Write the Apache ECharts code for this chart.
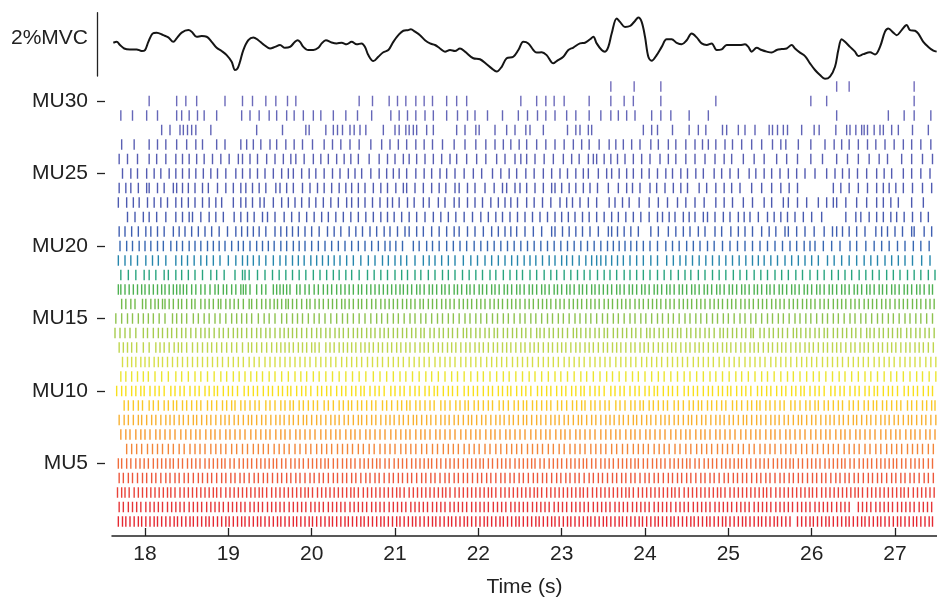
<!DOCTYPE html>
<html><head><meta charset="utf-8">
<script src="https://cdn.jsdelivr.net/npm/echarts@6/dist/echarts.min.js"></script>
<style>html,body{margin:0;padding:0;background:#fff}#c{width:937px;height:600px}</style>
</head><body><div id="c"></div>
<script>
const timeTicks = [18, 19, 20, 21, 22, 23, 24, 25, 26, 27];
const muTicks = [5, 10, 15, 20, 25, 30];

const forceT = [17.62,17.66,17.70,17.75,17.82,17.90,17.96,18.00,18.04,18.09,18.14,18.22,18.28,18.34,18.38,18.44,18.52,18.56,18.62,18.68,18.74,18.80,18.86,18.92,18.98,19.04,19.08,19.11,19.14,19.18,19.24,19.30,19.36,19.42,19.50,19.56,19.62,19.68,19.74,19.80,19.83,19.86,19.90,19.96,20.02,20.08,20.12,20.17,20.24,20.30,20.36,20.42,20.48,20.54,20.60,20.64,20.68,20.74,20.80,20.86,20.92,20.98,21.04,21.10,21.16,21.19,21.24,21.30,21.36,21.42,21.48,21.54,21.60,21.66,21.72,21.78,21.84,21.94,22.02,22.10,22.16,22.22,22.28,22.34,22.42,22.48,22.54,22.60,22.66,22.70,22.76,22.82,22.90,22.94,23.02,23.08,23.14,23.22,23.28,23.34,23.38,23.42,23.48,23.52,23.56,23.60,23.66,23.70,23.76,23.82,23.88,23.92,23.96,24.00,24.04,24.08,24.14,24.20,24.26,24.32,24.38,24.44,24.50,24.56,24.62,24.68,24.74,24.80,24.86,24.92,24.98,25.06,25.14,25.20,25.24,25.28,25.34,25.40,25.46,25.52,25.58,25.64,25.70,25.76,25.80,25.86,25.92,25.98,26.04,26.10,26.16,26.22,26.28,26.32,26.36,26.40,26.46,26.52,26.56,26.62,26.70,26.76,26.82,26.88,26.92,26.98,27.02,27.08,27.14,27.18,27.24,27.28,27.34,27.40,27.46,27.50];
const forceV = [1.05,1.08,0.98,0.87,0.84,0.84,0.79,0.82,1.08,1.34,1.37,1.29,1.22,1.08,1.19,1.37,1.45,1.40,1.24,1.26,1.24,1.08,0.89,0.79,0.66,0.45,0.19,0.24,0.45,0.82,1.13,1.22,1.13,1.00,0.87,0.92,0.98,0.89,0.92,1.08,1.13,1.08,0.92,0.82,0.82,0.89,1.03,1.13,1.06,1.03,1.05,1.00,1.08,1.00,1.03,0.92,0.66,0.47,0.61,0.75,0.82,1.08,1.29,1.43,1.45,1.48,1.40,1.29,1.13,1.03,0.98,0.87,0.77,0.82,0.79,0.87,0.77,0.56,0.53,0.37,0.24,0.14,0.29,0.56,0.61,0.82,1.08,1.03,0.82,0.74,0.75,0.66,0.40,0.47,0.61,0.82,0.90,1.03,1.05,1.16,1.24,1.03,0.82,0.77,0.92,1.34,1.82,1.71,1.55,1.58,1.74,1.85,1.71,1.24,0.61,0.48,0.66,0.92,1.16,1.16,1.05,1.00,1.13,1.34,1.22,1.03,0.98,1.03,0.82,0.84,0.98,0.98,0.98,1.00,0.92,0.77,0.89,0.82,0.77,0.74,0.82,0.85,0.87,0.98,0.87,0.74,0.63,0.40,0.19,0.03,-0.09,-0.02,0.29,0.82,1.16,1.08,0.92,0.77,0.63,0.69,0.75,0.68,0.92,1.40,1.50,1.37,1.29,1.45,1.61,1.45,1.43,1.34,1.08,0.92,0.80,0.77];

const mu1 = [17.68,17.73,17.77,17.82,17.87,17.92,17.96,18.01,18.06,18.11,18.15,18.20,18.25,18.30,18.35,18.39,18.44,18.49,18.54,18.58,18.63,18.68,18.73,18.77,18.82,18.87,18.92,18.97,19.01,19.06,19.11,19.16,19.20,19.25,19.30,19.35,19.39,19.44,19.49,19.54,19.59,19.63,19.68,19.73,19.78,19.82,19.87,19.92,19.97,20.01,20.06,20.11,20.16,20.21,20.25,20.30,20.35,20.40,20.44,20.49,20.54,20.59,20.63,20.68,20.73,20.78,20.83,20.87,20.92,20.97,21.02,21.06,21.11,21.16,21.21,21.25,21.30,21.35,21.40,21.45,21.49,21.54,21.59,21.64,21.68,21.73,21.78,21.83,21.87,21.92,21.97,22.02,22.07,22.11,22.16,22.21,22.26,22.30,22.35,22.40,22.45,22.49,22.54,22.59,22.64,22.69,22.73,22.78,22.83,22.88,22.92,22.97,23.02,23.07,23.11,23.16,23.21,23.26,23.31,23.35,23.40,23.45,23.50,23.54,23.59,23.64,23.69,23.73,23.78,23.83,23.88,23.93,23.97,24.02,24.07,24.12,24.16,24.21,24.26,24.31,24.35,24.40,24.45,24.50,24.55,24.59,24.64,24.69,24.74,24.78,24.83,24.88,24.93,24.97,25.02,25.07,25.12,25.17,25.21,25.26,25.31,25.36,25.40,25.45,25.50,25.55,25.59,25.64,25.69,25.74,25.83,25.88,25.93,25.98,26.02,26.07,26.12,26.17,26.21,26.26,26.31,26.36,26.41,26.45,26.50,26.55,26.60,26.64,26.69,26.74,26.79,26.83,26.88,26.93,26.98,27.03,27.07,27.12,27.17,27.22,27.26,27.31,27.36,27.41,27.45];
const mu2 = [17.69,17.74,17.80,17.85,17.90,17.95,18.01,18.06,18.11,18.16,18.21,18.27,18.32,18.37,18.42,18.47,18.53,18.58,18.63,18.68,18.74,18.79,18.84,18.89,18.94,19.00,19.05,19.10,19.15,19.20,19.26,19.31,19.36,19.41,19.47,19.52,19.57,19.62,19.67,19.73,19.78,19.83,19.88,19.93,19.99,20.04,20.09,20.14,20.20,20.25,20.30,20.35,20.40,20.46,20.51,20.56,20.61,20.66,20.72,20.77,20.82,20.87,20.93,20.98,21.03,21.08,21.13,21.19,21.24,21.29,21.34,21.39,21.45,21.50,21.55,21.60,21.66,21.71,21.76,21.81,21.86,21.92,21.97,22.02,22.07,22.12,22.18,22.23,22.28,22.33,22.39,22.44,22.49,22.54,22.59,22.65,22.70,22.75,22.80,22.85,22.91,22.96,23.01,23.06,23.12,23.17,23.22,23.27,23.32,23.38,23.43,23.48,23.53,23.58,23.64,23.69,23.74,23.79,23.85,23.90,23.95,24.00,24.05,24.11,24.16,24.21,24.26,24.31,24.37,24.42,24.47,24.52,24.58,24.63,24.68,24.73,24.78,24.84,24.89,24.94,24.99,25.04,25.10,25.15,25.20,25.25,25.31,25.36,25.41,25.46,25.51,25.57,25.62,25.67,25.72,25.77,25.83,25.88,25.93,25.98,26.04,26.09,26.14,26.19,26.24,26.30,26.35,26.40,26.45,26.56,26.61,26.66,26.71,26.77,26.82,26.87,26.92,26.97,27.03,27.08,27.13,27.18,27.23,27.29,27.34,27.39,27.44];
const mu3 = [17.67,17.72,17.76,17.81,17.87,17.92,17.97,18.02,18.07,18.12,18.17,18.22,18.27,18.31,18.36,18.42,18.47,18.52,18.57,18.62,18.67,18.72,18.77,18.82,18.86,18.91,18.97,19.02,19.07,19.12,19.17,19.22,19.27,19.32,19.37,19.41,19.46,19.52,19.57,19.62,19.67,19.72,19.77,19.82,19.87,19.92,19.96,20.01,20.07,20.12,20.17,20.22,20.27,20.32,20.37,20.42,20.47,20.51,20.56,20.62,20.67,20.72,20.77,20.82,20.87,20.92,20.97,21.02,21.06,21.11,21.17,21.22,21.27,21.32,21.37,21.42,21.47,21.52,21.57,21.61,21.66,21.72,21.77,21.82,21.87,21.92,21.97,22.02,22.07,22.12,22.16,22.21,22.27,22.32,22.37,22.42,22.47,22.52,22.57,22.62,22.67,22.71,22.76,22.82,22.87,22.92,22.97,23.02,23.07,23.12,23.17,23.22,23.26,23.31,23.37,23.42,23.47,23.52,23.57,23.62,23.67,23.72,23.77,23.81,23.86,23.92,23.97,24.02,24.07,24.12,24.17,24.22,24.27,24.32,24.36,24.41,24.47,24.52,24.57,24.62,24.67,24.72,24.77,24.82,24.87,24.91,24.96,25.02,25.07,25.12,25.17,25.22,25.27,25.32,25.37,25.42,25.46,25.51,25.57,25.62,25.67,25.72,25.77,25.82,25.87,25.92,25.97,26.01,26.06,26.12,26.17,26.22,26.27,26.32,26.37,26.42,26.47,26.52,26.56,26.61,26.67,26.72,26.77,26.82,26.87,26.92,26.97,27.02,27.07,27.11,27.16,27.22,27.27,27.32,27.37,27.42,27.47];
const mu4 = [17.69,17.74,17.80,17.85,17.91,17.97,18.02,18.08,18.13,18.19,18.25,18.30,18.36,18.41,18.47,18.52,18.58,18.64,18.69,18.75,18.80,18.86,18.92,18.97,19.03,19.08,19.14,19.19,19.25,19.31,19.36,19.42,19.47,19.53,19.59,19.64,19.70,19.75,19.81,19.86,19.92,19.98,20.03,20.09,20.14,20.20,20.26,20.31,20.37,20.42,20.48,20.53,20.59,20.65,20.70,20.76,20.81,20.87,20.93,20.98,21.04,21.09,21.15,21.20,21.26,21.32,21.37,21.43,21.48,21.54,21.60,21.65,21.71,21.76,21.82,21.87,21.93,21.99,22.04,22.10,22.15,22.21,22.27,22.32,22.38,22.43,22.49,22.54,22.60,22.66,22.71,22.77,22.82,22.88,22.94,22.99,23.05,23.10,23.16,23.21,23.27,23.33,23.38,23.44,23.49,23.55,23.61,23.66,23.72,23.77,23.83,23.88,23.94,24.00,24.05,24.11,24.16,24.22,24.28,24.33,24.39,24.44,24.50,24.55,24.61,24.67,24.72,24.78,24.83,24.89,24.95,25.00,25.06,25.11,25.17,25.22,25.28,25.34,25.39,25.45,25.50,25.56,25.62,25.67,25.73,25.78,25.84,25.89,25.95,26.01,26.06,26.12,26.17,26.23,26.29,26.34,26.40,26.45,26.51,26.56,26.62,26.68,26.73,26.79,26.84,26.90,26.96,27.01,27.07,27.12,27.18,27.23,27.29,27.35,27.40,27.46];
const mu5 = [17.68,17.72,17.78,17.83,17.89,17.94,17.99,18.04,18.10,18.15,18.20,18.25,18.30,18.34,18.40,18.45,18.51,18.56,18.61,18.66,18.72,18.77,18.82,18.87,18.92,18.96,19.02,19.07,19.13,19.18,19.23,19.28,19.34,19.39,19.44,19.49,19.54,19.58,19.64,19.69,19.75,19.80,19.85,19.90,19.96,20.01,20.06,20.11,20.16,20.20,20.26,20.31,20.37,20.42,20.47,20.52,20.58,20.63,20.68,20.73,20.78,20.82,20.88,20.93,20.99,21.04,21.09,21.14,21.20,21.25,21.30,21.35,21.40,21.44,21.50,21.55,21.61,21.66,21.71,21.76,21.82,21.87,21.92,21.97,22.02,22.06,22.12,22.17,22.23,22.28,22.33,22.38,22.44,22.49,22.54,22.59,22.64,22.68,22.74,22.79,22.85,22.90,22.95,23.00,23.06,23.11,23.16,23.21,23.26,23.30,23.36,23.41,23.47,23.52,23.57,23.62,23.68,23.73,23.78,23.83,23.88,23.92,23.98,24.03,24.09,24.14,24.19,24.24,24.30,24.35,24.40,24.45,24.50,24.54,24.60,24.65,24.71,24.76,24.81,24.86,24.92,24.97,25.02,25.07,25.12,25.16,25.22,25.27,25.33,25.38,25.43,25.48,25.54,25.59,25.64,25.69,25.74,25.78,25.84,25.89,25.95,26.00,26.05,26.10,26.16,26.21,26.26,26.31,26.36,26.40,26.46,26.51,26.57,26.62,26.67,26.72,26.78,26.83,26.88,26.93,26.98,27.02,27.08,27.13,27.19,27.24,27.29,27.34,27.40,27.45];
const mu6 = [17.78,17.84,17.90,17.96,18.03,18.09,18.15,18.21,18.28,18.34,18.41,18.47,18.54,18.60,18.66,18.72,18.79,18.85,18.91,18.97,19.04,19.10,19.17,19.23,19.30,19.36,19.42,19.48,19.55,19.61,19.67,19.73,19.80,19.86,19.93,19.99,20.06,20.12,20.18,20.24,20.31,20.37,20.43,20.49,20.56,20.62,20.69,20.75,20.82,20.88,20.94,21.00,21.07,21.13,21.19,21.25,21.32,21.38,21.45,21.51,21.58,21.64,21.70,21.76,21.83,21.89,21.95,22.01,22.08,22.14,22.21,22.27,22.34,22.40,22.46,22.52,22.59,22.65,22.71,22.77,22.84,22.90,22.97,23.03,23.10,23.16,23.22,23.28,23.35,23.41,23.47,23.53,23.60,23.66,23.73,23.79,23.86,23.92,23.98,24.04,24.11,24.17,24.23,24.29,24.36,24.42,24.49,24.55,24.62,24.68,24.74,24.80,24.87,24.93,24.99,25.05,25.12,25.18,25.25,25.31,25.38,25.44,25.50,25.56,25.63,25.69,25.75,25.81,25.88,25.94,26.01,26.07,26.14,26.20,26.26,26.32,26.39,26.45,26.51,26.57,26.64,26.70,26.77,26.83,26.90,26.96,27.02,27.08,27.15,27.21,27.27,27.33,27.40,27.46];
const mu7 = [17.71,17.77,17.82,17.89,17.95,18.00,18.06,18.13,18.18,18.24,18.30,18.36,18.43,18.49,18.55,18.61,18.66,18.73,18.79,18.84,18.90,18.97,19.02,19.08,19.14,19.20,19.27,19.33,19.39,19.45,19.50,19.57,19.63,19.68,19.74,19.81,19.86,19.92,19.98,20.04,20.11,20.17,20.23,20.29,20.34,20.41,20.47,20.52,20.58,20.65,20.70,20.76,20.82,20.88,20.95,21.01,21.07,21.13,21.18,21.25,21.31,21.36,21.42,21.49,21.54,21.60,21.66,21.72,21.79,21.85,21.91,21.97,22.02,22.09,22.15,22.20,22.26,22.33,22.38,22.44,22.50,22.56,22.63,22.69,22.75,22.81,22.86,22.93,22.99,23.04,23.10,23.17,23.22,23.28,23.34,23.40,23.47,23.53,23.59,23.65,23.70,23.77,23.83,23.88,23.94,24.01,24.06,24.12,24.18,24.24,24.31,24.37,24.43,24.49,24.54,24.61,24.67,24.72,24.78,24.85,24.90,24.96,25.02,25.08,25.15,25.21,25.27,25.33,25.38,25.45,25.51,25.56,25.62,25.69,25.74,25.80,25.86,25.92,25.99,26.05,26.11,26.17,26.22,26.29,26.35,26.40,26.46,26.53,26.58,26.64,26.70,26.76,26.83,26.89,26.95,27.01,27.06,27.13,27.19,27.24,27.30,27.37,27.42,27.48];
const mu8 = [17.69,17.75,17.80,17.86,17.92,17.96,18.02,18.08,18.13,18.19,18.25,18.30,18.35,18.41,18.46,18.52,18.58,18.62,18.68,18.74,18.79,18.85,18.91,18.96,19.01,19.07,19.12,19.18,19.24,19.28,19.34,19.40,19.45,19.51,19.57,19.62,19.67,19.73,19.78,19.84,19.90,19.94,20.00,20.06,20.11,20.17,20.23,20.28,20.33,20.39,20.44,20.50,20.56,20.60,20.66,20.72,20.77,20.83,20.89,20.94,20.99,21.05,21.10,21.16,21.22,21.26,21.32,21.38,21.43,21.49,21.55,21.60,21.65,21.71,21.76,21.82,21.88,21.92,21.98,22.04,22.09,22.15,22.21,22.26,22.31,22.37,22.42,22.48,22.54,22.58,22.64,22.70,22.75,22.81,22.87,22.92,22.97,23.03,23.08,23.14,23.20,23.24,23.30,23.36,23.41,23.47,23.53,23.58,23.63,23.69,23.74,23.80,23.86,23.90,23.96,24.02,24.07,24.13,24.19,24.24,24.29,24.35,24.40,24.46,24.52,24.56,24.62,24.68,24.73,24.79,24.85,24.90,24.95,25.01,25.06,25.12,25.18,25.22,25.28,25.34,25.39,25.45,25.51,25.56,25.61,25.67,25.72,25.78,25.84,25.88,25.94,26.00,26.05,26.11,26.17,26.22,26.27,26.33,26.38,26.44,26.50,26.54,26.60,26.66,26.71,26.77,26.83,26.88,26.93,26.99,27.04,27.10,27.16,27.20,27.26,27.32,27.37,27.43,27.49];
const mu9 = [17.75,17.80,17.86,17.92,17.97,18.05,18.10,18.16,18.23,18.28,18.34,18.38,18.45,18.50,18.56,18.62,18.67,18.75,18.80,18.86,18.93,18.98,19.04,19.08,19.15,19.20,19.26,19.32,19.37,19.45,19.50,19.56,19.63,19.68,19.74,19.78,19.85,19.90,19.96,20.02,20.07,20.15,20.20,20.26,20.33,20.38,20.44,20.48,20.55,20.60,20.66,20.72,20.77,20.85,20.90,20.96,21.03,21.08,21.14,21.18,21.25,21.30,21.36,21.42,21.47,21.55,21.60,21.66,21.73,21.78,21.84,21.88,21.95,22.00,22.06,22.12,22.17,22.25,22.30,22.36,22.43,22.48,22.54,22.58,22.65,22.70,22.76,22.82,22.87,22.95,23.00,23.06,23.13,23.18,23.24,23.28,23.35,23.40,23.46,23.52,23.57,23.65,23.70,23.76,23.83,23.88,23.94,23.98,24.05,24.10,24.16,24.22,24.27,24.35,24.40,24.46,24.53,24.58,24.64,24.68,24.75,24.80,24.86,24.92,24.97,25.05,25.10,25.16,25.23,25.28,25.34,25.38,25.45,25.50,25.56,25.62,25.67,25.75,25.80,25.86,25.93,25.98,26.04,26.08,26.15,26.20,26.26,26.32,26.37,26.45,26.50,26.56,26.63,26.68,26.74,26.78,26.85,26.90,26.96,27.02,27.07,27.15,27.20,27.26,27.33,27.38,27.44,27.48];
const mu10 = [17.66,17.72,17.77,17.84,17.89,17.95,17.99,18.06,18.12,18.17,18.23,18.31,18.36,18.42,18.47,18.54,18.60,18.65,18.72,18.77,18.83,18.87,18.94,19.00,19.05,19.11,19.19,19.24,19.30,19.35,19.42,19.48,19.53,19.60,19.65,19.71,19.75,19.82,19.88,19.93,19.99,20.07,20.12,20.18,20.23,20.30,20.36,20.41,20.48,20.53,20.59,20.63,20.70,20.76,20.81,20.87,20.95,21.00,21.06,21.11,21.18,21.24,21.29,21.36,21.41,21.47,21.51,21.58,21.64,21.69,21.75,21.83,21.88,21.94,21.99,22.06,22.12,22.17,22.24,22.29,22.35,22.39,22.46,22.52,22.57,22.63,22.71,22.76,22.82,22.87,22.94,23.00,23.05,23.12,23.17,23.23,23.27,23.34,23.40,23.45,23.51,23.59,23.64,23.70,23.75,23.82,23.88,23.93,24.00,24.05,24.11,24.15,24.22,24.28,24.33,24.39,24.47,24.52,24.58,24.63,24.70,24.76,24.81,24.88,24.93,24.99,25.03,25.10,25.16,25.21,25.27,25.35,25.40,25.46,25.51,25.58,25.64,25.69,25.76,25.81,25.87,25.91,25.98,26.04,26.09,26.15,26.23,26.28,26.34,26.39,26.46,26.52,26.57,26.64,26.69,26.75,26.79,26.86,26.92,26.97,27.03,27.11,27.16,27.22,27.27,27.34,27.40,27.45];
const mu11 = [17.71,17.77,17.84,17.91,17.98,18.04,18.12,18.20,18.28,18.37,18.44,18.52,18.60,18.67,18.75,18.83,18.91,18.98,19.06,19.13,19.20,19.27,19.34,19.41,19.49,19.56,19.64,19.72,19.80,19.87,19.94,20.02,20.09,20.17,20.25,20.33,20.41,20.49,20.57,20.65,20.74,20.82,20.90,20.98,21.06,21.13,21.21,21.29,21.37,21.44,21.52,21.60,21.68,21.75,21.83,21.91,21.99,22.06,22.14,22.22,22.30,22.37,22.45,22.53,22.61,22.68,22.76,22.84,22.92,22.99,23.07,23.15,23.23,23.30,23.38,23.46,23.54,23.61,23.69,23.77,23.85,23.92,24.00,24.08,24.16,24.23,24.31,24.39,24.47,24.54,24.62,24.70,24.78,24.85,24.93,25.01,25.09,25.16,25.24,25.32,25.40,25.47,25.55,25.63,25.71,25.78,25.86,25.94,26.02,26.09,26.17,26.25,26.33,26.40,26.48,26.56,26.64,26.71,26.79,26.87,26.95,27.02,27.10,27.18,27.26,27.33,27.41,27.49];
const mu12 = [17.73,17.79,17.84,17.89,17.95,18.00,18.05,18.11,18.16,18.21,18.27,18.33,18.39,18.45,18.51,18.57,18.63,18.69,18.75,18.81,18.87,18.93,19.00,19.06,19.12,19.18,19.25,19.31,19.37,19.44,19.50,19.56,19.62,19.68,19.74,19.80,19.86,19.92,19.98,20.05,20.11,20.17,20.23,20.29,20.36,20.42,20.48,20.54,20.60,20.67,20.73,20.79,20.85,20.92,20.98,21.04,21.10,21.17,21.23,21.29,21.35,21.41,21.48,21.54,21.60,21.66,21.72,21.79,21.85,21.91,21.97,22.03,22.10,22.16,22.22,22.28,22.34,22.41,22.47,22.53,22.59,22.65,22.72,22.78,22.84,22.90,22.96,23.03,23.09,23.15,23.21,23.27,23.34,23.40,23.46,23.52,23.58,23.65,23.71,23.77,23.83,23.89,23.96,24.02,24.08,24.14,24.20,24.27,24.33,24.39,24.45,24.51,24.58,24.64,24.70,24.76,24.82,24.89,24.95,25.01,25.07,25.13,25.20,25.26,25.32,25.38,25.44,25.51,25.57,25.63,25.69,25.75,25.82,25.88,25.94,26.00,26.06,26.13,26.19,26.25,26.31,26.37,26.44,26.50,26.56,26.62,26.68,26.75,26.81,26.87,26.93,26.99,27.06,27.12,27.18,27.24,27.30,27.37,27.43,27.49];
const mu13 = [17.69,17.74,17.79,17.84,17.90,17.98,18.05,18.13,18.18,18.23,18.29,18.35,18.40,18.44,18.50,18.57,18.63,18.69,18.75,18.80,18.86,18.92,18.98,19.04,19.10,19.17,19.24,19.28,19.34,19.40,19.46,19.52,19.58,19.63,19.68,19.73,19.78,19.84,19.89,19.94,20.00,20.04,20.09,20.17,20.22,20.27,20.33,20.38,20.43,20.48,20.53,20.59,20.64,20.69,20.74,20.80,20.85,20.91,20.96,21.02,21.07,21.13,21.18,21.24,21.30,21.35,21.40,21.46,21.52,21.57,21.63,21.68,21.73,21.79,21.85,21.90,21.96,22.01,22.06,22.12,22.18,22.23,22.29,22.34,22.39,22.45,22.51,22.56,22.62,22.67,22.72,22.78,22.84,22.89,22.95,23.00,23.05,23.11,23.17,23.22,23.28,23.33,23.38,23.44,23.50,23.55,23.61,23.66,23.71,23.77,23.83,23.88,23.94,23.99,24.04,24.10,24.16,24.21,24.27,24.32,24.37,24.43,24.49,24.54,24.60,24.65,24.70,24.76,24.82,24.87,24.93,24.98,25.03,25.09,25.15,25.20,25.26,25.31,25.36,25.42,25.48,25.53,25.59,25.64,25.69,25.75,25.81,25.86,25.92,25.97,26.02,26.08,26.14,26.19,26.25,26.30,26.35,26.41,26.47,26.52,26.58,26.63,26.68,26.74,26.80,26.85,26.91,26.96,27.01,27.07,27.13,27.18,27.24,27.29,27.34,27.40,27.46];
const mu14 = [17.64,17.70,17.76,17.82,17.89,17.98,18.03,18.10,18.16,18.21,18.27,18.32,18.38,18.44,18.49,18.55,18.61,18.67,18.72,18.77,18.83,18.89,18.94,19.00,19.06,19.11,19.16,19.22,19.28,19.34,19.39,19.45,19.50,19.56,19.62,19.67,19.72,19.77,19.82,19.88,19.94,20.00,20.06,20.11,20.17,20.22,20.28,20.33,20.38,20.44,20.50,20.55,20.60,20.66,20.71,20.76,20.82,20.87,20.92,20.98,21.03,21.09,21.14,21.20,21.25,21.31,21.35,21.42,21.47,21.53,21.58,21.64,21.69,21.75,21.82,21.86,21.91,21.97,22.02,22.08,22.13,22.19,22.23,22.30,22.35,22.41,22.46,22.52,22.57,22.63,22.70,22.74,22.79,22.85,22.90,22.96,23.01,23.07,23.14,23.18,23.23,23.29,23.34,23.40,23.45,23.51,23.55,23.62,23.67,23.73,23.78,23.84,23.89,23.95,24.02,24.06,24.11,24.17,24.22,24.28,24.33,24.39,24.43,24.50,24.55,24.61,24.66,24.72,24.77,24.83,24.90,24.94,24.99,25.05,25.10,25.16,25.21,25.27,25.30,25.38,25.43,25.49,25.54,25.60,25.65,25.71,25.78,25.82,25.87,25.93,25.98,26.04,26.09,26.15,26.19,26.26,26.31,26.37,26.42,26.48,26.53,26.59,26.66,26.70,26.75,26.81,26.86,26.92,26.97,27.03,27.07,27.14,27.19,27.25,27.30,27.36,27.41,27.47];
const mu15 = [17.65,17.72,17.79,17.85,17.92,17.98,18.04,18.10,18.17,18.24,18.33,18.38,18.44,18.50,18.58,18.64,18.71,18.77,18.84,18.90,18.97,19.04,19.10,19.16,19.22,19.28,19.36,19.43,19.49,19.56,19.64,19.70,19.77,19.83,19.89,19.96,20.03,20.09,20.16,20.23,20.30,20.37,20.43,20.50,20.57,20.64,20.71,20.78,20.84,20.91,20.98,21.04,21.11,21.18,21.24,21.31,21.37,21.44,21.51,21.57,21.64,21.70,21.77,21.84,21.90,21.97,22.03,22.10,22.17,22.23,22.30,22.36,22.43,22.50,22.56,22.63,22.69,22.76,22.83,22.89,22.96,23.02,23.09,23.16,23.22,23.29,23.35,23.42,23.49,23.55,23.62,23.68,23.75,23.82,23.88,23.95,24.01,24.08,24.15,24.21,24.28,24.34,24.41,24.48,24.54,24.61,24.67,24.74,24.81,24.87,24.94,25.00,25.07,25.14,25.20,25.27,25.33,25.40,25.47,25.53,25.60,25.66,25.73,25.80,25.86,25.93,25.99,26.06,26.13,26.19,26.26,26.32,26.39,26.46,26.52,26.59,26.65,26.72,26.79,26.85,26.92,26.98,27.05,27.12,27.18,27.25,27.31,27.38,27.45];
const mu16 = [17.72,17.77,17.83,17.88,17.97,18.01,18.07,18.12,18.16,18.21,18.24,18.29,18.34,18.40,18.44,18.50,18.56,18.60,18.67,18.72,18.77,18.82,18.88,18.91,18.97,19.02,19.07,19.12,19.18,19.25,19.28,19.34,19.40,19.45,19.50,19.55,19.59,19.64,19.69,19.72,19.77,19.82,19.88,19.94,19.98,20.04,20.09,20.14,20.20,20.25,20.30,20.36,20.40,20.45,20.50,20.56,20.60,20.66,20.72,20.77,20.83,20.88,20.93,20.98,21.03,21.09,21.14,21.19,21.24,21.30,21.34,21.40,21.45,21.50,21.56,21.61,21.66,21.71,21.77,21.82,21.87,21.92,21.98,22.03,22.08,22.14,22.19,22.24,22.29,22.35,22.40,22.45,22.50,22.56,22.61,22.66,22.72,22.77,22.82,22.87,22.93,22.98,23.03,23.09,23.14,23.19,23.24,23.30,23.35,23.40,23.45,23.51,23.56,23.61,23.67,23.72,23.77,23.82,23.88,23.93,23.98,24.04,24.09,24.14,24.19,24.25,24.30,24.35,24.41,24.46,24.51,24.56,24.62,24.67,24.72,24.78,24.83,24.88,24.93,24.99,25.04,25.09,25.15,25.20,25.25,25.30,25.36,25.41,25.46,25.52,25.57,25.62,25.67,25.73,25.78,25.83,25.89,25.94,25.99,26.04,26.10,26.15,26.20,26.26,26.31,26.36,26.41,26.47,26.52,26.57,26.63,26.68,26.73,26.78,26.84,26.89,26.94,27.00,27.05,27.10,27.15,27.21,27.26,27.31,27.37,27.42,27.47];
const mu17 = [17.68,17.71,17.76,17.81,17.86,17.91,17.96,18.00,18.05,18.10,18.15,18.20,18.24,18.29,18.34,18.38,18.42,18.46,18.50,18.56,18.61,18.67,18.72,18.78,18.84,18.88,18.94,18.98,19.04,19.09,19.15,19.18,19.21,19.26,19.34,19.40,19.45,19.54,19.58,19.62,19.66,19.70,19.74,19.82,19.86,19.92,19.97,20.03,20.08,20.14,20.19,20.24,20.30,20.35,20.40,20.45,20.50,20.56,20.60,20.66,20.71,20.76,20.81,20.86,20.91,20.96,21.01,21.06,21.10,21.15,21.20,21.26,21.30,21.35,21.41,21.45,21.50,21.56,21.60,21.65,21.71,21.75,21.80,21.86,21.90,21.95,22.01,22.05,22.10,22.16,22.20,22.25,22.31,22.35,22.40,22.46,22.50,22.55,22.61,22.65,22.70,22.76,22.80,22.85,22.91,22.95,23.00,23.06,23.10,23.15,23.21,23.25,23.30,23.36,23.40,23.45,23.50,23.55,23.60,23.66,23.70,23.75,23.81,23.85,23.90,23.96,24.00,24.05,24.11,24.15,24.20,24.26,24.30,24.35,24.41,24.45,24.50,24.56,24.60,24.65,24.71,24.75,24.80,24.86,24.90,24.95,25.01,25.05,25.10,25.16,25.20,25.25,25.31,25.35,25.40,25.46,25.50,25.55,25.61,25.65,25.70,25.76,25.80,25.85,25.91,25.95,26.00,26.06,26.10,26.15,26.21,26.25,26.30,26.36,26.40,26.45,26.51,26.55,26.60,26.66,26.70,26.75,26.81,26.85,26.90,26.96,27.00,27.05,27.11,27.15,27.20,27.26,27.30,27.35,27.41,27.45];
const mu18 = [17.71,17.80,17.89,17.99,18.05,18.13,18.23,18.28,18.37,18.44,18.52,18.60,18.69,18.79,18.86,18.95,19.08,19.17,19.20,19.25,19.35,19.44,19.53,19.61,19.69,19.77,19.85,19.93,20.02,20.10,20.18,20.26,20.33,20.41,20.48,20.57,20.67,20.75,20.83,20.91,21.00,21.08,21.15,21.24,21.31,21.40,21.48,21.57,21.64,21.72,21.81,21.89,21.97,22.05,22.14,22.21,22.30,22.38,22.46,22.53,22.62,22.70,22.79,22.87,22.94,23.03,23.11,23.19,23.27,23.34,23.43,23.51,23.58,23.66,23.75,23.82,23.90,23.98,24.06,24.15,24.23,24.31,24.40,24.48,24.55,24.64,24.72,24.81,24.89,24.97,25.06,25.14,25.22,25.31,25.39,25.47,25.56,25.64,25.72,25.81,25.89,25.98,26.07,26.15,26.24,26.32,26.40,26.48,26.57,26.65,26.73,26.81,26.90,26.98,27.06,27.15,27.23,27.31,27.40,27.48];
const mu19 = [17.68,17.76,17.83,17.91,18.01,18.09,18.16,18.25,18.37,18.44,18.51,18.59,18.67,18.74,18.82,18.90,19.00,19.09,19.17,19.23,19.30,19.37,19.45,19.54,19.62,19.69,19.77,19.84,19.91,19.99,20.06,20.13,20.20,20.27,20.34,20.42,20.50,20.59,20.68,20.76,20.85,20.92,21.00,21.07,21.14,21.24,21.34,21.41,21.48,21.56,21.64,21.72,21.82,21.91,21.99,22.08,22.16,22.24,22.32,22.40,22.47,22.55,22.62,22.69,22.77,22.85,22.92,23.00,23.06,23.13,23.21,23.29,23.36,23.42,23.47,23.53,23.60,23.67,23.74,23.82,23.90,23.98,24.07,24.15,24.26,24.34,24.42,24.49,24.57,24.65,24.73,24.81,24.89,24.97,25.05,25.13,25.21,25.29,25.36,25.43,25.51,25.59,25.68,25.76,25.84,25.92,26.00,26.08,26.19,26.27,26.36,26.45,26.54,26.63,26.71,26.79,26.88,26.96,27.04,27.12,27.21,27.32,27.42];
const mu20 = [17.70,17.78,17.85,17.93,18.00,18.07,18.15,18.22,18.31,18.38,18.45,18.53,18.60,18.67,18.75,18.82,18.89,18.96,19.04,19.12,19.18,19.26,19.34,19.41,19.48,19.55,19.63,19.70,19.78,19.85,19.92,20.00,20.08,20.16,20.24,20.32,20.40,20.48,20.56,20.64,20.72,20.80,20.88,20.94,21.01,21.09,21.22,21.29,21.38,21.45,21.53,21.62,21.70,21.78,21.86,21.95,22.03,22.11,22.19,22.27,22.35,22.43,22.51,22.59,22.67,22.75,22.83,22.91,22.99,23.07,23.15,23.23,23.31,23.39,23.47,23.55,23.62,23.69,23.76,23.83,23.90,23.98,24.06,24.15,24.25,24.33,24.41,24.50,24.58,24.66,24.75,24.83,24.93,25.02,25.11,25.20,25.29,25.38,25.47,25.56,25.65,25.74,25.82,25.91,25.98,26.04,26.14,26.24,26.34,26.46,26.54,26.65,26.75,26.84,26.93,27.03,27.12,27.22,27.31,27.41];
const mu21 = [17.69,17.76,17.84,17.92,18.01,18.07,18.15,18.23,18.34,18.41,18.48,18.56,18.64,18.72,18.80,18.89,18.99,19.09,19.16,19.23,19.30,19.37,19.45,19.56,19.63,19.70,19.77,19.84,19.92,20.00,20.09,20.19,20.27,20.35,20.45,20.53,20.61,20.70,20.78,20.87,20.94,21.03,21.12,21.17,21.26,21.34,21.44,21.53,21.62,21.71,21.77,21.87,21.96,22.06,22.16,22.24,22.32,22.39,22.46,22.56,22.66,22.76,22.88,22.92,23.01,23.09,23.17,23.25,23.34,23.44,23.56,23.60,23.67,23.75,23.83,23.92,24.07,24.16,24.28,24.37,24.46,24.54,24.64,24.72,24.84,24.92,25.03,25.12,25.20,25.29,25.40,25.49,25.57,25.68,25.72,25.82,25.92,26.03,26.15,26.25,26.30,26.37,26.45,26.54,26.64,26.77,26.84,26.91,27.00,27.09,27.20,27.23,27.35,27.44];
const mu22 = [17.79,17.88,17.98,18.05,18.14,18.25,18.37,18.45,18.53,18.57,18.67,18.77,18.85,18.94,19.07,19.15,19.23,19.31,19.41,19.47,19.56,19.67,19.76,19.85,19.94,20.03,20.12,20.20,20.29,20.38,20.47,20.56,20.65,20.74,20.83,20.91,20.99,21.08,21.17,21.26,21.36,21.46,21.55,21.64,21.73,21.83,21.93,22.03,22.12,22.21,22.29,22.38,22.47,22.56,22.65,22.74,22.83,22.92,23.00,23.08,23.16,23.25,23.33,23.42,23.51,23.60,23.68,23.77,23.86,23.95,24.05,24.15,24.21,24.29,24.36,24.46,24.53,24.60,24.70,24.75,24.84,24.94,25.02,25.12,25.19,25.26,25.36,25.47,25.55,25.63,25.71,25.80,25.90,26.00,26.12,26.41,26.53,26.59,26.69,26.78,26.86,26.95,27.02,27.11,27.21,27.31,27.40];
const mu23 = [17.68,17.78,17.86,17.93,18.03,18.11,18.19,18.27,18.37,18.44,18.52,18.60,18.69,18.77,18.85,18.92,19.06,19.15,19.21,19.29,19.38,19.43,19.54,19.64,19.72,19.80,19.88,19.97,20.05,20.14,20.23,20.32,20.42,20.48,20.56,20.64,20.73,20.82,20.91,20.97,21.05,21.15,21.23,21.34,21.41,21.52,21.60,21.71,21.77,21.87,21.96,22.05,22.15,22.24,22.32,22.39,22.47,22.58,22.67,22.77,22.87,22.98,23.06,23.13,23.22,23.32,23.42,23.57,23.64,23.73,23.81,23.93,24.05,24.16,24.27,24.39,24.49,24.60,24.71,24.85,24.95,25.05,25.18,25.29,25.43,25.52,25.66,25.72,25.83,25.94,26.08,26.18,26.26,26.30,26.41,26.54,26.66,26.78,26.86,26.95,27.04,27.20,27.34];
const mu24 = [17.69,17.77,17.83,17.92,18.02,18.05,18.15,18.23,18.34,18.38,18.45,18.52,18.60,18.69,18.76,18.87,18.97,19.06,19.15,19.21,19.29,19.37,19.45,19.57,19.62,19.70,19.78,19.89,19.98,20.07,20.15,20.24,20.33,20.41,20.48,20.56,20.64,20.74,20.83,20.91,21.01,21.10,21.14,21.24,21.34,21.44,21.53,21.61,21.72,21.77,21.87,21.96,22.08,22.19,22.29,22.34,22.44,22.50,22.58,22.68,22.78,22.88,22.92,23.00,23.09,23.17,23.26,23.34,23.43,23.56,23.68,23.78,23.85,23.94,24.06,24.14,24.24,24.34,24.43,24.51,24.65,24.74,24.85,24.95,25.04,25.14,25.28,25.40,25.52,25.63,25.73,25.83,26.26,26.35,26.45,26.56,26.67,26.78,26.86,26.93,27.01,27.10,27.21,27.33,27.44];
const mu25 = [17.73,17.83,17.91,18.02,18.11,18.19,18.29,18.37,18.45,18.53,18.61,18.70,18.79,18.87,18.97,19.09,19.17,19.26,19.35,19.44,19.54,19.64,19.72,19.78,19.88,19.97,20.05,20.15,20.25,20.34,20.44,20.52,20.60,20.71,20.81,20.90,20.98,21.05,21.14,21.25,21.35,21.44,21.54,21.62,21.72,21.83,21.94,22.04,22.17,22.27,22.37,22.46,22.57,22.67,22.78,22.88,22.98,23.07,23.17,23.26,23.32,23.44,23.54,23.60,23.69,23.78,23.86,23.96,24.05,24.15,24.25,24.33,24.43,24.51,24.61,24.70,24.83,24.92,25.02,25.12,25.25,25.33,25.43,25.52,25.62,25.72,25.82,25.92,26.04,26.18,26.28,26.37,26.45,26.55,26.66,26.78,26.87,26.96,27.10,27.20,27.31,27.42];
const mu26 = [17.69,17.79,17.91,18.05,18.14,18.25,18.37,18.45,18.53,18.62,18.71,18.81,18.91,19.01,19.12,19.17,19.26,19.35,19.46,19.56,19.66,19.75,19.81,19.91,20.02,20.11,20.20,20.30,20.39,20.47,20.56,20.69,20.81,20.91,21.00,21.10,21.17,21.26,21.36,21.46,21.56,21.66,21.74,21.86,21.98,22.09,22.22,22.32,22.44,22.51,22.58,22.68,22.79,22.90,23.02,23.12,23.21,23.32,23.38,23.42,23.51,23.59,23.67,23.76,23.86,23.96,24.06,24.18,24.28,24.37,24.49,24.60,24.72,24.84,24.95,25.04,25.18,25.31,25.43,25.58,25.70,25.83,25.99,26.13,26.30,26.43,26.56,26.69,26.81,26.91,27.08,27.20,27.33,27.45];
const mu27 = [17.72,17.87,18.05,18.15,18.25,18.38,18.50,18.61,18.69,18.86,18.96,19.15,19.22,19.30,19.39,19.50,19.58,19.69,19.79,19.89,20.01,20.15,20.25,20.35,20.46,20.57,20.71,20.84,20.94,21.04,21.14,21.25,21.35,21.45,21.57,21.71,21.84,21.97,22.09,22.20,22.30,22.39,22.49,22.58,22.70,22.81,22.92,23.03,23.14,23.24,23.33,23.45,23.57,23.65,23.74,23.84,23.94,24.07,24.16,24.28,24.37,24.49,24.60,24.69,24.76,24.85,24.96,25.05,25.16,25.28,25.40,25.53,25.63,25.69,25.84,25.99,26.16,26.27,26.36,26.45,26.56,26.67,26.77,26.88,26.99,27.10,27.20,27.31,27.43];
const mu28 = [18.20,18.30,18.42,18.46,18.51,18.56,18.61,18.79,19.34,19.65,19.93,19.97,20.17,20.26,20.31,20.37,20.46,20.51,20.58,20.65,20.86,21.00,21.05,21.13,21.17,21.22,21.26,21.38,21.46,21.74,21.84,21.97,22.01,22.20,22.34,22.44,22.57,22.62,22.78,23.07,23.17,23.22,23.32,23.36,23.98,24.08,24.15,24.33,24.53,24.64,24.73,24.93,24.98,25.12,25.20,25.32,25.49,25.53,25.59,25.66,25.71,25.88,26.03,26.09,26.29,26.42,26.46,26.53,26.60,26.63,26.67,26.75,26.82,26.86,26.96,27.04,27.21,27.40];
const mu29 = [17.71,17.85,18.02,18.15,18.38,18.44,18.53,18.63,18.71,18.86,19.16,19.26,19.37,19.49,19.58,19.70,19.79,19.90,20.02,20.11,20.26,20.41,20.55,20.72,20.95,21.05,21.15,21.25,21.36,21.46,21.62,21.75,21.87,21.96,22.11,22.29,22.48,22.59,22.71,22.81,22.92,23.06,23.17,23.33,23.47,23.59,23.68,23.78,23.88,24.08,24.19,24.31,24.53,24.76,26.30,26.92,27.11,27.23,27.43];
const mu30 = [18.05,18.38,18.49,18.62,18.96,19.17,19.29,19.45,19.57,19.71,19.81,20.57,20.73,20.93,21.03,21.13,21.25,21.35,21.45,21.62,21.74,21.86,22.51,22.70,22.81,22.91,23.03,23.33,23.59,23.75,23.86,24.19,24.85,25.99,26.18,27.23];
const mu31 = [23.59,23.87,24.19,26.30,26.45,27.23];

const trains = [mu1,mu2,mu3,mu4,mu5,mu6,mu7,mu8,mu9,mu10,mu11,mu12,mu13,mu14,mu15,mu16,mu17,mu18,mu19,mu20,mu21,mu22,mu23,mu24,mu25,mu26,mu27,mu28,mu29,mu30,mu31];
const palette = ['#e41e26','#e52a2c','#e8382e','#ec4e30','#ef6532','#f27f2e','#f59628','#f8ad26','#f9c51e','#f7dd10','#eae424','#d4dc3e','#bcd343','#a2c945','#88bf44','#6cb742','#45ad48','#1e9f78','#1a7fa8','#2d5fae','#3656ad','#3e52ac','#4351ac','#4752ad','#4a52ad','#4e54ae','#5257af','#575bb2','#5d5fb4','#6462b6','#6a64b7'];

const FONT = '"Liberation Sans", Arial, sans-serif';
const chart = echarts.init(document.getElementById('c'));
const series = trains.map((tr, i) => ({
  type: 'scatter', xAxisIndex: 1, yAxisIndex: 1, silent: true,
  symbol: 'rect', symbolSize: [1.4, 10.5],
  itemStyle: { color: palette[i], opacity: 0.95 },
  data: tr.map(t => [t, i + 1])
}));
series.push({
  type: 'line', xAxisIndex: 0, yAxisIndex: 0, silent: true, clip: false,
  showSymbol: false, smooth: 0.35,
  lineStyle: { color: '#151515', width: 2 },
  data: forceT.map((t, i) => [t, forceV[i]])
});
chart.setOption({
  animation: false,
  grid: [
    { left: 112, right: 0, top: 12.7, height: 63.3, outerBoundsMode: 'none' },
    { left: 112, right: 0, top: 72, bottom: 64, outerBoundsMode: 'none' }
  ],
  graphic: [
    { type: 'text', x: 88, y: 38.5, silent: true,
      style: { text: '2%MVC', fill: '#222', font: '21px ' + FONT, textAlign: 'right', textVerticalAlign: 'middle' } }
  ],
  xAxis: [
    { type: 'value', gridIndex: 0, min: 17.604, max: 27.504, show: false },
    { type: 'value', gridIndex: 1, min: 17.604, max: 27.504,
      axisLine: { onZero: false, lineStyle: { color: '#222', width: 1.5 } },
      axisTick: { inside: true, length: 8, customValues: timeTicks, lineStyle: { color: '#222', width: 1.3 } },
      axisLabel: { customValues: timeTicks, color: '#222', fontSize: 21, fontFamily: FONT, margin: 8 },
      splitLine: { show: false },
      name: 'Time (s)', nameLocation: 'middle', nameGap: 41,
      nameTextStyle: { color: '#222', fontSize: 21, fontFamily: FONT } }
  ],
  yAxis: [
    { type: 'value', gridIndex: 0, min: 0, max: 2, offset: 15,
      axisLine: { show: true, onZero: false, lineStyle: { color: '#222', width: 1.3 } },
      axisTick: { show: false }, axisLabel: { show: false }, splitLine: { show: false } },
    { type: 'value', gridIndex: 1, min: 0, max: 32, offset: 7,
      axisLine: { show: false },
      axisTick: { show: true, length: 8, customValues: muTicks, lineStyle: { color: '#222', width: 1.3 } },
      axisLabel: { customValues: muTicks, formatter: v => 'MU' + v, color: '#222', fontSize: 21, fontFamily: FONT, margin: 17 },
      splitLine: { show: false } }
  ],
  series: series
});
</script></body></html>
